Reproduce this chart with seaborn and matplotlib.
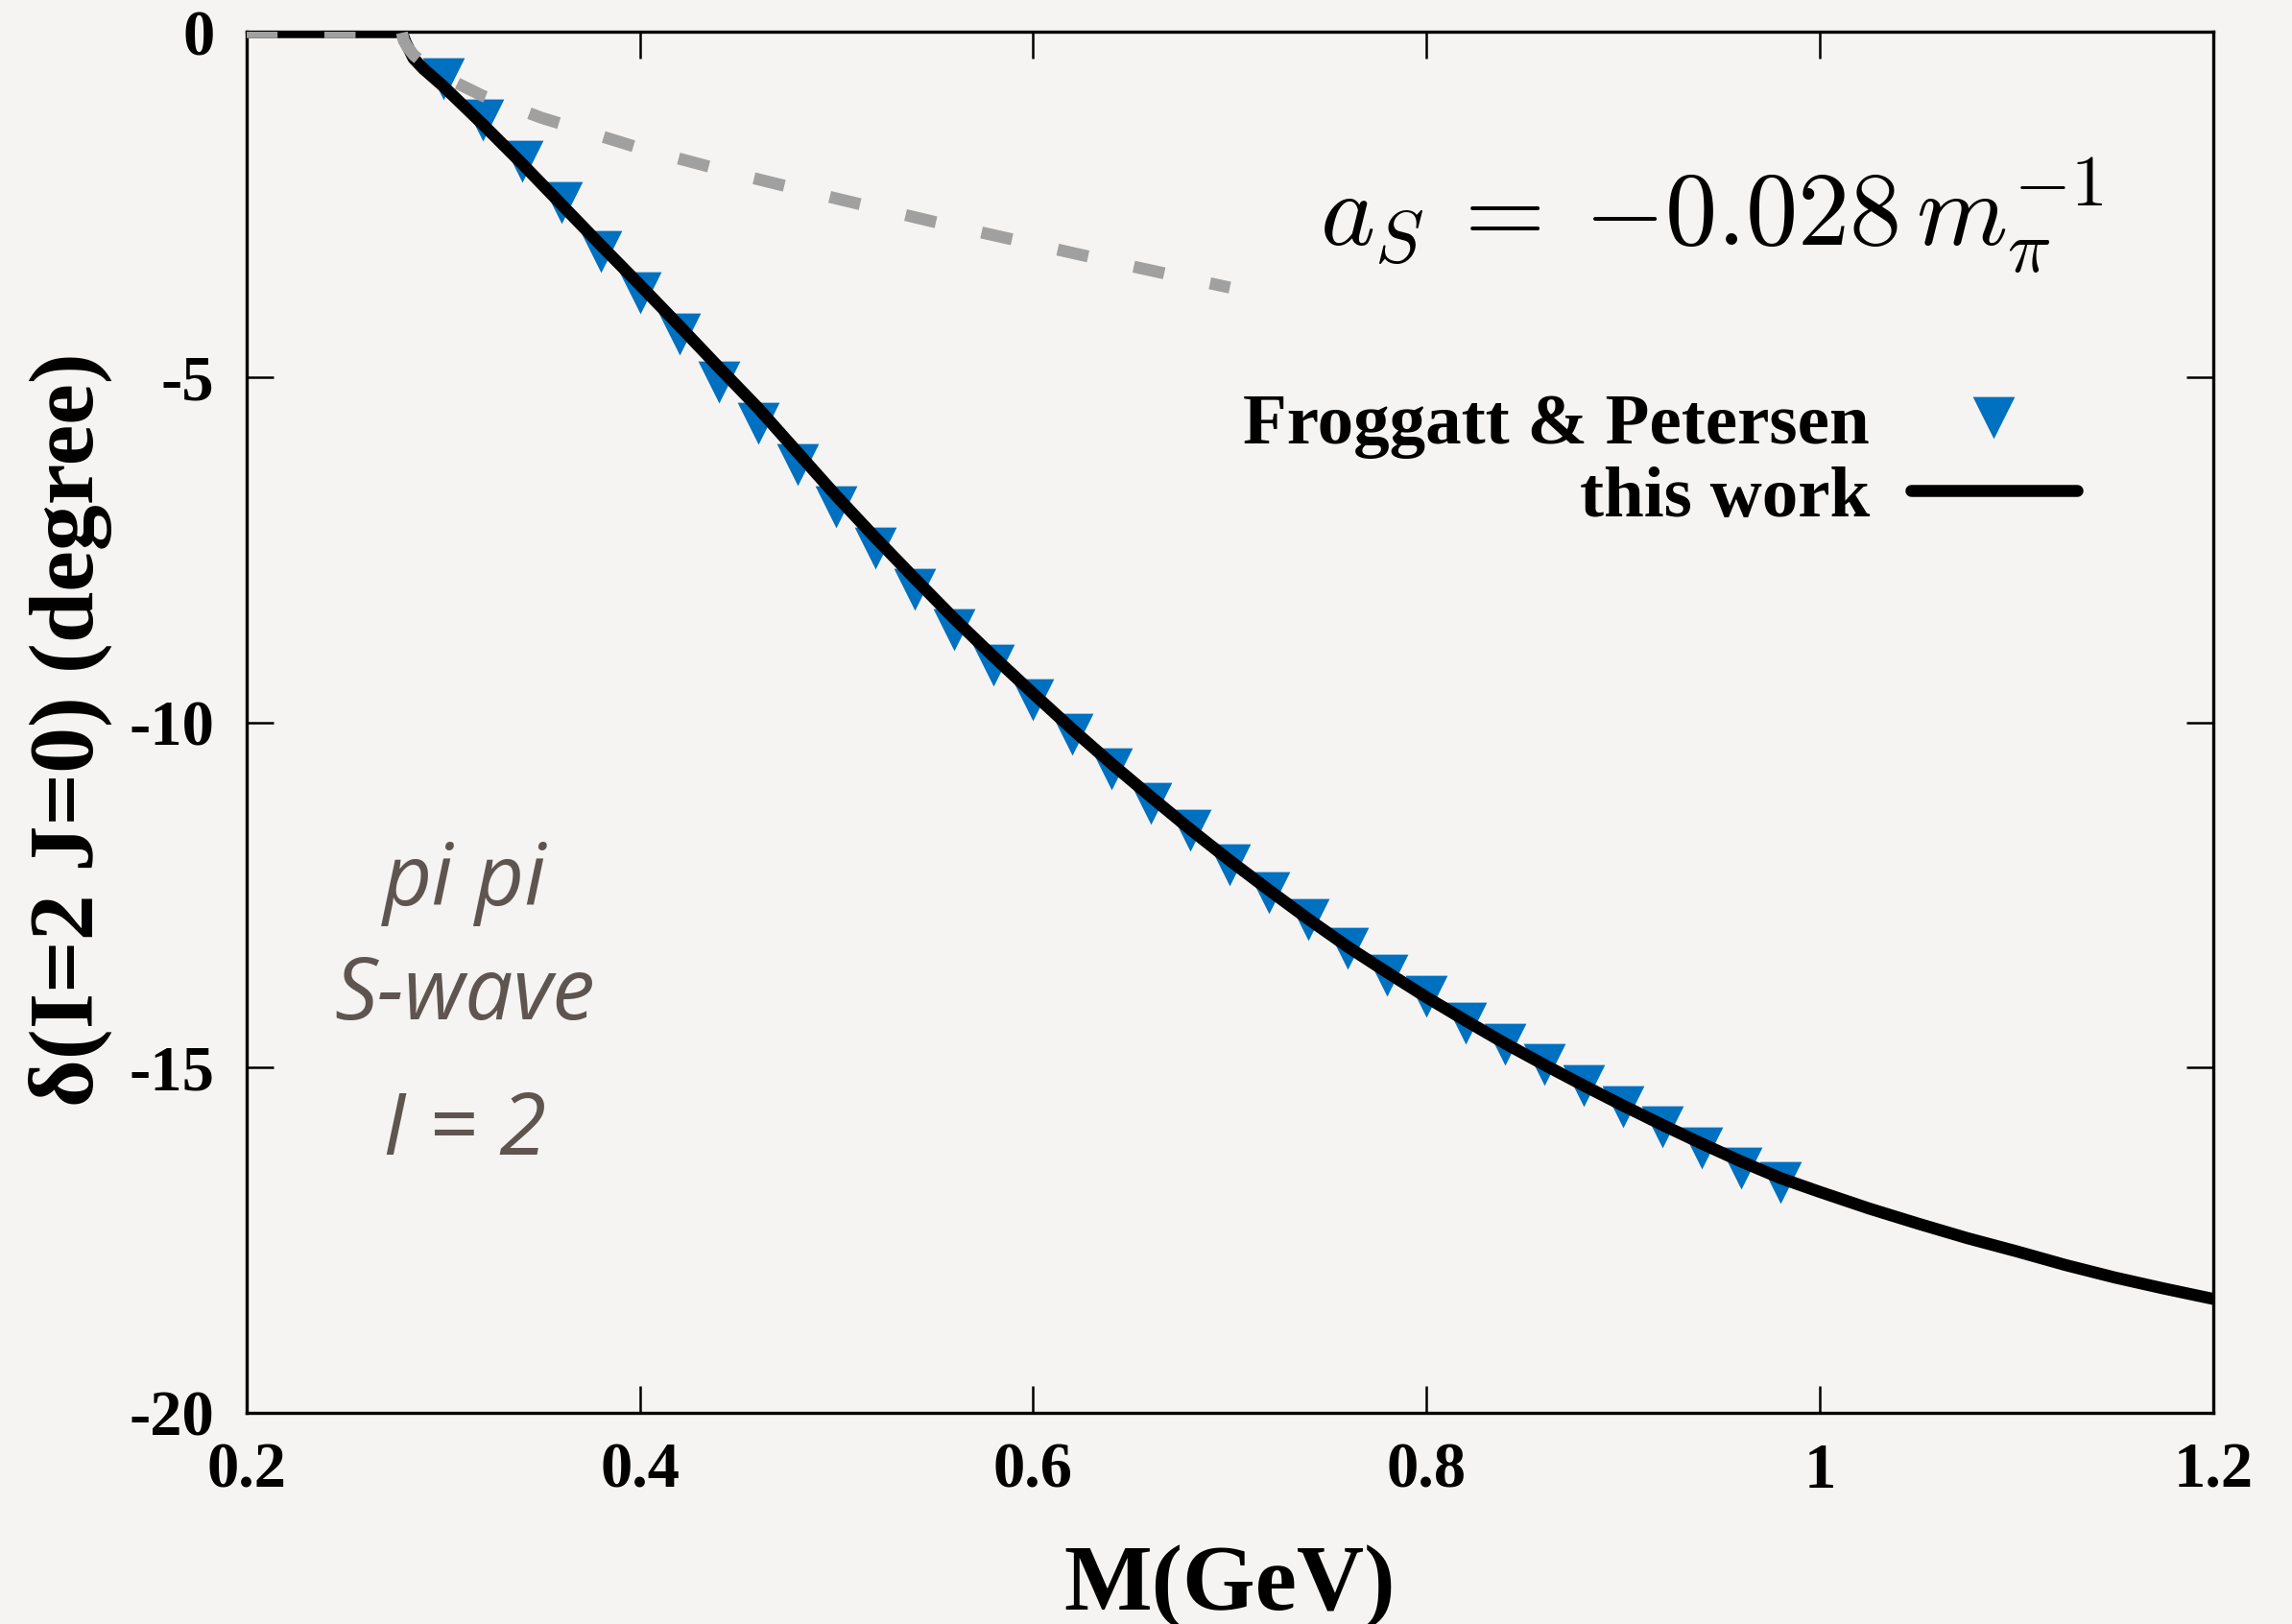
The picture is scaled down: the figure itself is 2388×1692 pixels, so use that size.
import matplotlib
matplotlib.use("Agg")
import matplotlib.pyplot as plt
import seaborn as sns
import pandas as pd

# ---------------- data ----------------
fp_mass = [0.30, 0.32, 0.34, 0.36, 0.38, 0.40, 0.42, 0.44, 0.46, 0.48,
           0.50, 0.52, 0.54, 0.56, 0.58, 0.60, 0.62, 0.64, 0.66, 0.68,
           0.70, 0.72, 0.74, 0.76, 0.78, 0.80, 0.82, 0.84, 0.86, 0.88,
           0.90, 0.92, 0.94, 0.96, 0.98]
fp_delta = [-0.67, -1.27, -1.87, -2.47, -3.17, -3.77, -4.37, -5.07, -5.67, -6.27,
            -6.87, -7.47, -8.07, -8.66, -9.17, -9.67, -10.17, -10.67, -11.17, -11.56,
            -12.06, -12.46, -12.86, -13.27, -13.66, -13.96, -14.36, -14.66, -14.96, -15.26,
            -15.56, -15.86, -16.16, -16.46, -16.66]

work_mass = [0.20, 0.279, 0.281, 0.285, 0.29, 0.30, 0.32, 0.34, 0.36, 0.38,
             0.40, 0.42, 0.44, 0.46, 0.48, 0.50, 0.52, 0.54, 0.56, 0.58,
             0.60, 0.62, 0.64, 0.66, 0.68, 0.70, 0.72, 0.74, 0.76, 0.78,
             0.80, 0.82, 0.84, 0.86, 0.88, 0.90, 0.92, 0.94, 0.96, 0.98,
             1.00, 1.025, 1.05, 1.075, 1.10, 1.125, 1.15, 1.175, 1.20]
work_delta = [0.0, 0.0, -0.15, -0.38, -0.53, -0.78, -1.33, -1.90, -2.49, -3.08,
              -3.66, -4.25, -4.85, -5.44, -6.08, -6.72, -7.33, -7.92, -8.50, -9.05,
              -9.58, -10.10, -10.60, -11.08, -11.55, -12.00, -12.43, -12.85, -13.25, -13.62,
              -13.98, -14.32, -14.65, -14.96, -15.26, -15.55, -15.83, -16.10, -16.36, -16.60,
              -16.80, -17.04, -17.26, -17.47, -17.66, -17.86, -18.04, -18.20, -18.35]

sl_mass = [0.20, 0.279, 0.280, 0.282, 0.285, 0.29, 0.30, 0.32, 0.35, 0.40,
           0.45, 0.50, 0.55, 0.60, 0.65, 0.70]
sl_delta = [0.0, 0.0, -0.12, -0.22, -0.33, -0.45, -0.64, -0.92, -1.24, -1.68,
            -2.06, -2.41, -2.75, -3.07, -3.39, -3.70]

x_ticks = [0.2, 0.4, 0.6, 0.8, 1.0, 1.2]
x_tick_labels = ["0.2", "0.4", "0.6", "0.8", "1", "1.2"]
y_ticks = [0, -5, -10, -15, -20]
y_tick_labels = ["0", "-5", "-10", "-15", "-20"]

label_fp = "Froggatt & Petersen"
label_work = "this work"
annot_lines = ["pi pi", "S-wave", "I = 2"]

# ---------------- style ----------------
BG = "#f5f4f2"
BLUE = "#0070c0"
GRAY = "#a0a0a0"
ANN = "#5f5550"

sns.set_style("ticks")
plt.rcParams["font.family"] = ["Liberation Serif", "DejaVu Serif"]
plt.rcParams["mathtext.fontset"] = "cm"
plt.rcParams["axes.unicode_minus"] = False
plt.rcParams["text.color"] = "black"
plt.rcParams["axes.labelcolor"] = "black"
plt.rcParams["xtick.color"] = "black"
plt.rcParams["ytick.color"] = "black"

W, H = 2388, 1692
fig = plt.figure(figsize=(W / 100, H / 100), dpi=100, facecolor=BG)
L, R, T, B = 256.7, 2306.0, 33.5, 1472.0
ax = fig.add_axes([L / W, 1 - B / H, (R - L) / W, (B - T) / H], facecolor=BG)

df_fp = pd.DataFrame({"M": fp_mass, "delta": fp_delta})
df_work = pd.DataFrame({"M": work_mass, "delta": work_delta})
df_sl = pd.DataFrame({"M": sl_mass, "delta": sl_delta})

sns.scatterplot(data=df_fp, x="M", y="delta", marker="v", s=31.5 ** 2,
                color=BLUE, linewidth=0, ax=ax, label=label_fp, zorder=3)
sns.lineplot(data=df_work, x="M", y="delta", color="black", lw=9,
             ax=ax, label=label_work, estimator=None, zorder=4)
sns.lineplot(data=df_sl, x="M", y="delta", color=GRAY, lw=9,
             linestyle=(0, (2.6, 3.9)), ax=ax, estimator=None, zorder=5,
             legend=False)

ax.set_xlim(0.2, 1.2)
ax.set_ylim(-20, 0)
ax.set_xticks(x_ticks)
ax.set_xticklabels(x_tick_labels)
ax.set_yticks(y_ticks)
ax.set_yticklabels(y_tick_labels)
ax.set_xlabel("")
ax.set_ylabel("")

for sp in ax.spines.values():
    sp.set_visible(True)
    sp.set_linewidth(2.4)
    sp.set_color("black")

ax.tick_params(axis="both", which="major", direction="in", length=20,
               width=1.8, color="black", top=True, right=True,
               labelsize=48, labelcolor="black")
ax.tick_params(axis="x", pad=22)
ax.tick_params(axis="y", pad=24)
for lab in ax.get_xticklabels() + ax.get_yticklabels():
    lab.set_fontweight("bold")
    lab.set_color("black")

# axis labels
fig.text(((L + R) / 2) / W, 1 - 1677 / H, "M(GeV)", ha="center", va="baseline",
         fontsize=70, fontweight="bold", color="black")
fig.text(97 / W, 1 - 760 / H, "δ(I=2 J=0) (degree)", rotation=90,
         rotation_mode="anchor", ha="center", va="baseline",
         fontsize=69, fontweight="bold", color="black")

# legend
handles, labels = ax.get_legend_handles_labels()
order = [labels.index(label_fp), labels.index(label_work)]
leg = ax.legend([handles[i] for i in order], [labels[i] for i in order],
                loc="upper right", bbox_to_anchor=(2164 / W, 1 - 409 / H),
                bbox_transform=fig.transFigure, frameon=False,
                markerfirst=False, borderpad=0, borderaxespad=0,
                handlelength=2.31, handletextpad=0.57, labelspacing=0.1,
                scatteryoffsets=[0.5], labelcolor="black",
                prop={"family": "Liberation Serif", "weight": "bold", "size": 54})

# annotations
fig.text(1375 / W, 1 - 255 / H, r"$a_S\:=\:{-}0.028\,m_\pi^{-1}$",
         ha="left", va="baseline", fontsize=78, color="black")

ann_base = [943, 1062, 1203]
for txt, yb in zip(annot_lines, ann_base):
    fig.text(484 / W, 1 - yb / H, txt, ha="center", va="baseline",
             fontsize=64, style="italic", family="Open Sans", color=ANN)

fig.savefig("out.png", dpi=100, facecolor=BG)
